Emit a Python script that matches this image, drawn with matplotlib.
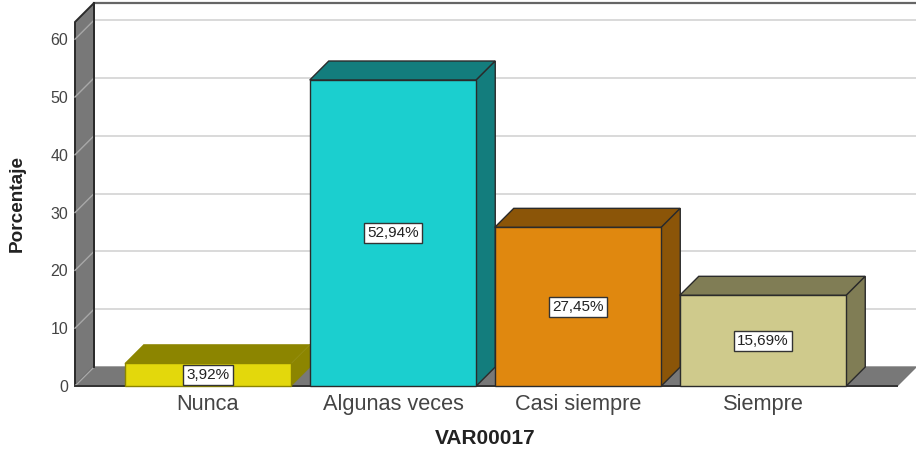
#!/usr/bin/env python3
"""Porcentaje por categoria de VAR00017, barras con efecto 3D."""

import matplotlib
matplotlib.use("Agg")
import matplotlib.pyplot as plt
from matplotlib.patches import Polygon

CATEGORIES = ["Nunca", "Algunas veces", "Casi siempre", "Siempre"]
VALUES = [3.92, 52.94, 27.45, 15.69]
FRONT_COLORS = ["#e3d80c", "#1bcfcf", "#e0880f", "#cfca8c"]
DARK_COLORS = ["#8c8500", "#137d7d", "#8b5508", "#807d55"]
YTICKS = [0, 10, 20, 30, 40, 50, 60]

W, H = 916, 449
# plano frontal en pixeles
LEFT, RIGHT, BOTTOM, TOP = 75, 897, 386, 22
PX_PER_CAT = 185.0
PX_PER_UNIT = 5.78
DEPTH = 19
BAR_WIDTH = 0.9

EDGE = "#2b2b2b"
WALL = "#787878"
GRID = "#d9d9d9"
TEXT = "#444444"

plt.rcParams["font.family"] = ["Liberation Sans", "DejaVu Sans"]

fig = plt.figure(figsize=(W / 100, H / 100), dpi=100)
ax = fig.add_axes([LEFT / W, (H - BOTTOM) / H, (RIGHT - LEFT) / W, (BOTTOM - TOP) / H])
ax.set_xlim((LEFT - 208) / PX_PER_CAT, (RIGHT - 208) / PX_PER_CAT)
ax.set_ylim(0, (BOTTOM - TOP) / PX_PER_UNIT)
ax.patch.set_visible(False)
for s in ax.spines.values():
    s.set_visible(False)

dx = DEPTH / PX_PER_CAT
dy = DEPTH / PX_PER_UNIT
x0, x1 = ax.get_xlim()
y1 = ax.get_ylim()[1]


def poly(pts, face, edge=EDGE, lw=1.0, z=1):
    ax.add_patch(Polygon(pts, closed=True, facecolor=face, edgecolor=edge,
                         linewidth=lw, clip_on=False, zorder=z))


# pared izquierda y suelo
poly([(x0, 0), (x0 + dx, dy), (x0 + dx, y1 + dy), (x0, y1)], WALL, lw=1.4)
poly([(x0, 0), (x0 + dx, dy), (x1 + dx, dy), (x1, 0)], WALL, edge=WALL, z=1)

# lineas de cuadricula sobre la pared del fondo
for v in YTICKS[1:]:
    ax.plot([x0 + dx, x1 + dx], [v + dy, v + dy], color=GRID, lw=1.4, clip_on=False, zorder=0.5)
    ax.plot([x0, x0 + dx], [v, v + dy], color="#a8a8a8", lw=1.0, clip_on=False, zorder=1.5)
ax.plot([x0, x0 + dx], [0, dy], color="#a8a8a8", lw=1.0, clip_on=False, zorder=1.5)
ax.plot([x0 + dx, x1 + dx], [y1 + dy, y1 + dy], color="#666666", lw=1.6, clip_on=False, zorder=1)
ax.plot([x0 + dx, x0 + dx], [dy, y1 + dy], color=EDGE, lw=1.4, clip_on=False, zorder=1.6)
ax.plot([x0, x1], [0, 0], color="#333333", lw=1.4, clip_on=False, zorder=2)

# barras
xs = list(range(len(VALUES)))
for i, v in zip(xs, VALUES):
    a, b = i - BAR_WIDTH / 2, i + BAR_WIDTH / 2
    lw = 0.3 if i == 0 else 1.0
    edge = DARK_COLORS[0] if i == 0 else EDGE
    poly([(a, v), (a + dx, v + dy), (b + dx, v + dy), (b, v)], DARK_COLORS[i], edge=edge, lw=lw, z=3)
    poly([(b, 0), (b + dx, dy), (b + dx, v + dy), (b, v)], DARK_COLORS[i], edge=edge, lw=lw, z=3)
ax.bar(xs, VALUES, width=BAR_WIDTH, color=FRONT_COLORS, edgecolor=[DARK_COLORS[0], EDGE, EDGE, EDGE],
       linewidth=1.0, zorder=4, clip_on=False)

# etiquetas de porcentaje
for i, v in zip(xs, VALUES):
    txt = f"{v:.2f}%".replace(".", ",")
    ax.text(i, v / 2 if v > 5 else 1.9, txt, ha="center", va="center", fontsize=11, color="#222222",
            zorder=5, bbox=dict(boxstyle="square,pad=0.2", facecolor="white", edgecolor="#333333", linewidth=1.0))

ax.set_xticks(xs)
ax.set_xticklabels(CATEGORIES, fontsize=15.7, color=TEXT)
ax.set_yticks(YTICKS)
ax.set_yticklabels([str(t) for t in YTICKS], fontsize=11.5, color=TEXT)
ax.tick_params(axis="both", length=0)
ax.tick_params(axis="x", pad=6)
ax.tick_params(axis="y", pad=5)

fig.text(485 / W, 1 - 439 / H, "VAR00017", ha="center", va="center", fontsize=15,
         fontweight="bold", color="#222222")
fig.text(17 / W, 1 - 204 / H, "Porcentaje", ha="center", va="center", rotation=90, fontsize=13.7,
         fontweight="bold", color="#222222")

fig.savefig("out.png", dpi=100)
